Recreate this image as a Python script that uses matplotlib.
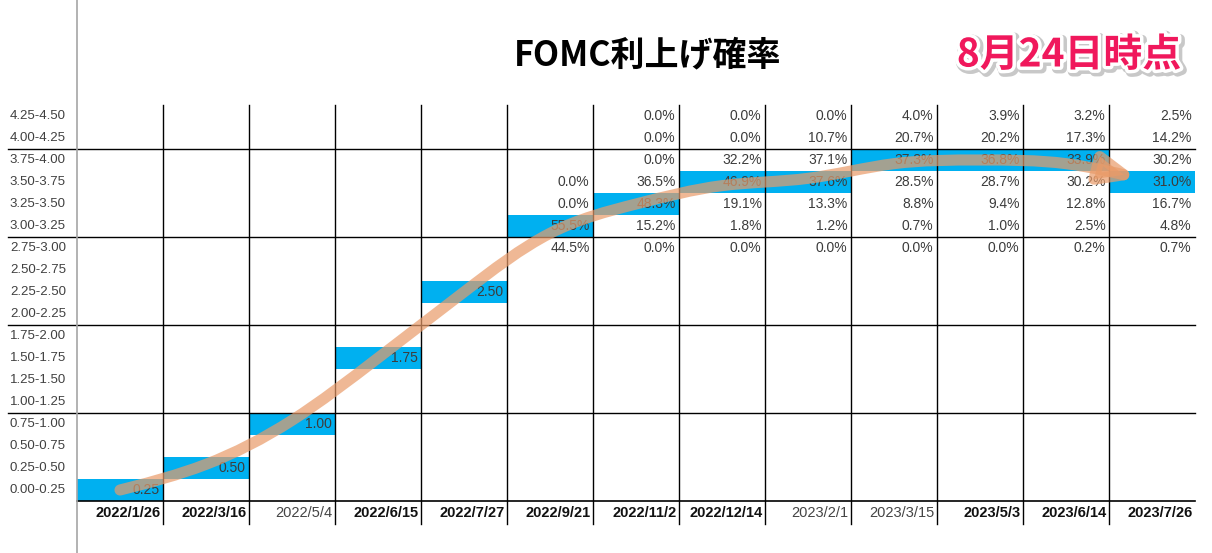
import numpy as np
import matplotlib
matplotlib.use("Agg")
import matplotlib.pyplot as plt
import matplotlib.patheffects as pe
from matplotlib.lines import Line2D
from matplotlib.path import Path
from matplotlib.patches import FancyArrowPatch

# FOMC meeting dates
dates = ["2022/1/26", "2022/3/16", "2022/5/4", "2022/6/15", "2022/7/27",
         "2022/9/21", "2022/11/2", "2022/12/14", "2023/2/1", "2023/3/15",
         "2023/5/3", "2023/6/14", "2023/7/26"]
date_bold = [True, True, False, True, True, True, True, True, False, False, True, True, True]

# rate bins (lower bounds), 0.00-0.25 ... 4.25-4.50
bin_low = np.arange(0, 4.5, 0.25)
bin_labels = ["%.2f-%.2f" % (lo, lo + 0.25) for lo in bin_low]

# already decided rates (upper bound) for the first five meetings
settled = [0.25, 0.50, 1.00, 1.75, 2.50]

# probabilities (%) for the remaining meetings, bins 2.75-3.00 ... 4.25-4.50
prob_low = [2.75, 3.00, 3.25, 3.50, 3.75, 4.00, 4.25]
p_0921 = [44.5, 55.5, 0.0, 0.0, None, None, None]
p_1102 = [0.0, 15.2, 48.3, 36.5, 0.0, 0.0, 0.0]
p_1214 = [0.0, 1.8, 19.1, 46.9, 32.2, 0.0, 0.0]
p_0201 = [0.0, 1.2, 13.3, 37.6, 37.1, 10.7, 0.0]
p_0315 = [0.0, 0.7, 8.8, 28.5, 37.3, 20.7, 4.0]
p_0503 = [0.0, 1.0, 9.4, 28.7, 36.8, 20.2, 3.9]
p_0614 = [0.2, 2.5, 12.8, 30.2, 33.9, 17.3, 3.2]
p_0726 = [0.7, 4.8, 16.7, 31.0, 30.2, 14.2, 2.5]
probs = [p_0921, p_1102, p_1214, p_0201, p_0315, p_0503, p_0614, p_0726]

W, H = 1212, 553
fig = plt.figure(figsize=(W / 100, H / 100), dpi=100)
ax = fig.add_axes([77 / W, (H - 501) / H, (1195 - 77) / W, (501 - 105) / H])
ax.set_xlim(0, len(dates))
ax.set_ylim(0, 4.5)
ax.axis("off")

blue = "#00B0F0"
txt = "#3c3c3c"
num_font = dict(family="Liberation Sans", fontsize=10, color=txt, ha="right", va="center")

# highlighted (most likely / decided) bin per meeting
hl_low = []
for r in settled:
    hl_low.append(r - 0.25)
for p in probs:
    vals = [v if v is not None else -1 for v in p]
    hl_low.append(prob_low[int(np.argmax(vals))])

ax.bar(np.arange(len(dates)), 0.25, bottom=hl_low, width=1, align="edge",
       color=blue, zorder=1)

# decided rates
for i, r in enumerate(settled):
    ax.text(i + 0.96, r - 0.125, "%.2f" % r, zorder=2, **num_font)

# probabilities
for j, p in enumerate(probs):
    col = len(settled) + j
    for lo, v in zip(prob_low, p):
        if v is None:
            continue
        ax.text(col + 0.96, lo + 0.125, "%.1f%%" % v, zorder=2, **num_font)

# grid
for c in range(1, len(dates)):
    ax.plot([c, c], [-0.26, 4.5], color="black", lw=1, clip_on=False, zorder=3)
for y in [1, 2, 3, 4]:
    ax.plot([-0.8, len(dates)], [y, y], color="black", lw=1, clip_on=False, zorder=3)
ax.plot([0, len(dates)], [0, 0], color="black", lw=1.2, clip_on=False, zorder=3)
fig.add_artist(Line2D([77 / W, 77 / W], [0, 1], color="#a6a6a6", lw=1.2))

# row labels
for lo, lab in zip(bin_low, bin_labels):
    ax.text(-0.78, lo + 0.125, lab, family="Liberation Sans", fontsize=9.5,
            color="#404040", ha="left", va="center", clip_on=False)

# date labels
for i, d in enumerate(dates):
    ax.text(i + 0.97, -0.14, d, family=["Liberation Sans Narrow", "Liberation Sans"],
            fontsize=10.5, fontweight="bold" if date_bold[i] else "normal",
            color="#111111" if date_bold[i] else "#444444",
            ha="right", va="center", clip_on=False)

# trend arrow: uniform cubic B-spline using the highlighted cells as control points
pts = np.column_stack([np.arange(len(dates)) + 0.5, np.array(hl_low) + 0.125])
ctrl = np.vstack([pts[0], pts[0], pts, pts[-1], pts[-1]])
verts, codes = [], []
for k in range(1, len(ctrl) - 3):
    p0, p1, p2, p3 = ctrl[k - 1], ctrl[k], ctrl[k + 1], ctrl[k + 2]
    seg = [(p0 + 4 * p1 + p2) / 6, (2 * p1 + p2) / 3, (p1 + 2 * p2) / 3, (p1 + 4 * p2 + p3) / 6]
    if not verts:
        verts.append(seg[0])
        codes.append(Path.MOVETO)
    verts += seg[1:]
    codes += [Path.CURVE4] * 3
trend = FancyArrowPatch(path=Path(verts, codes),
                        arrowstyle="-|>,head_length=1.0,head_width=0.42",
                        mutation_scale=20, lw=8, color=(233 / 255, 155 / 255, 105 / 255),
                        alpha=0.7, zorder=5, capstyle="round")
ax.add_patch(trend)

# titles
fig.text(648 / W, 1 - 55 / H, "FOMC利上げ確率", family="Noto Sans CJK JP",
         fontsize=24.5, fontweight="bold", color="black", ha="center", va="center")
fig.text(1069 / W, 1 - 55 / H, "8月24日時点", family="Noto Sans CJK JP",
         fontsize=28, fontweight="bold", color="#F0185C", ha="center", va="center",
         path_effects=[pe.Stroke(linewidth=7, foreground="#c8c8c8", offset=(1.5, -1.5)),
                       pe.Stroke(linewidth=5, foreground="white"), pe.Normal()])

fig.savefig("out.png", dpi=100, facecolor="white")
